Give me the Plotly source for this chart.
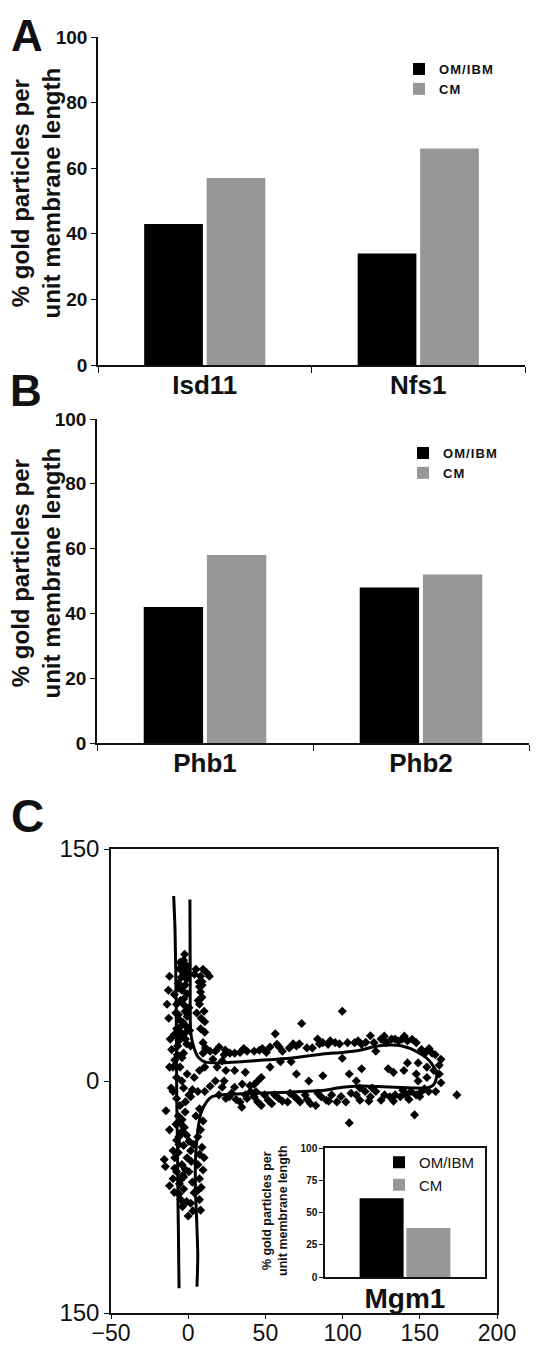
import plotly.graph_objects as go

W, H = 551, 1349
FONT = "Liberation Sans, Arial, sans-serif"
INK = "#111111"
BLACK = "#000000"
GRAY = "#979797"

# ---------------- data ----------------
series_names = ["OM/IBM", "CM"]
legend_spaced = ["O\u200aM\u200a/\u200aI\u200aB\u200aM", "C\u200aM"]

cats_a = ["Isd11", "Nfs1"]
om_a = [43, 34]
cm_a = [57, 66]

cats_b = ["Phb1", "Phb2"]
om_b = [42, 48]
cm_b = [58, 52]

cats_c = ["Mgm1"]
om_c = [61]
cm_c = [38]

y_ticks_ab = [0, 20, 40, 60, 80, 100]
y_ticks_inset = [0, 25, 50, 75, 100]
x_ticks_c = [-50, 0, 50, 100, 150, 200]
y_ticks_c = [-150, 0, 150]
y_ticktext_c = ["150", "0", "150"]

# gold particle positions (panel C scatter)
gold_x = [
    -2.3, -5.3, -3.7, -0.7, -5.7, -3.0, 0.5, 5.0, 9.6, 13.7, 8.0, 8.9, 7.3,
    -12.1, -12.8, -13.7, -12.6, -11.6, -10.7, -12.1, -11.0,
    -6.4, -4.1, -0.7, -3.0, -7.5, 0.5, -6.4, -0.7, -4.1, -7.5, 0.9, -5.3, -1.8,
    -6.8, 1.6, -3.0, -8.7, -5.3,
    8.0, 8.9, 7.3, 10.3, 8.4, 10.7, 8.0, 10.7, 9.6, 11.2, 9.6,
    -4.0, -1.0, -6.0, -2.0, -5.0, -2.0, -5.0, -1.0, -6.0, -2.0, -4.0, -9.0,
    -8.0, -9.0, 4.0, 12.0, 7.0,
    -3.0, -1.5, -4.5, -2.5, -0.5, -3.5, -5.5, -1.0, 6.5, 9.0, 5.5, -7.0,
    14.2, 17.6, 23.3, 30.1, 33.6, 38.1, 42.7, 46.1, 50.7, 56.4, 57.5, 61.0,
    65.5, 70.1, 73.5, 76.9, 80.4, 83.8, 87.2, 90.6, 95.2, 99.8, 99.8, 103.2,
    107.8, 112.3, 118.0, 120.3, 121.5, 124.9, 128.3, 131.7, 134.0, 136.3,
    138.6, 142.0, 147.7, 151.1, 153.4, 158.0, 163.7, 162.6, 162.6, 163.7,
    160.3, 155.7,
    24.0, 27.0, 36.0, 48.0, 53.0, 59.0, 68.0, 72.0, 85.0, 92.0, 98.0, 110.0,
    115.0, 127.0, 140.0, 145.0, 156.0, 160.0, 20.0, 16.0, 22.0,
    18.7, 24.4, 30.1, 37.0, 53.0, 59.8, 66.7, 70.1, 78.1, 87.2, 104.3, 112.3,
    129.5, 132.9, 139.7, 142.0, 148.9, 147.7, 148.9, 154.6, 154.6, 159.1,
    108.9, 45.0, 42.7, 47.3, 23.3, 17.6,
    10.7, 14.2, 19.9, 24.4, 26.7, 33.6, 34.7, 38.1, 40.4, 42.7, 45.0, 47.3,
    49.5, 51.8, 54.1, 58.7, 64.4, 68.9, 72.4, 75.8, 79.2, 82.6, 86.1, 89.5,
    92.9, 96.3, 102.1, 105.5, 108.9, 111.2, 114.6, 118.0, 121.5, 124.9,
    127.2, 130.6, 134.0, 137.4, 140.9, 144.3, 147.7, 151.1, 174.0, 104.3,
    146.6, 111.2, 119.2,
    28.0, 31.0, 37.0, 44.0, 56.0, 61.0, 66.0, 70.0, 77.0, 84.0, 91.0, 99.0,
    117.0, 133.0, 139.0, 143.0, 150.0, 153.0, 30.0, 35.0, 40.0, 22.0,
    -14.4, -12.1, -15.5, -14.8, -12.1, -6.4, -5.3, -4.1, -7.5, -3.0, -6.4,
    -8.7, -4.1, -7.5, -3.0, -5.7, -3.0, -4.8, -3.7, 0.0, 1.6, -0.7, 0.5, 2.7,
    5.0, 7.3, 9.6, 8.0, 6.2, 8.9, 7.3, 10.3, 6.2, 9.6, 7.3, 8.4, 7.3, 8.0,
    3.9, 1.6, -9.8, -8.7, -9.8, -5.3, -1.8, 1.6, 6.2, -9.8, -7.5,
    -2.0, -8.0, -1.0, -6.0, 2.0, -2.0, -9.0, -6.0, -1.0, 3.0,
    -4.0, -2.5, -6.0, 0.5, -3.5, -5.0, 3.5, 6.0,
    -9.8, -7.5, -4.1, -0.7, 3.9, 7.3, 10.7, -3.0, 2.7, 0.5,
]
gold_y = [
    81.9, 76.7, 76.2, 74.4, 72.6, 69.9, 68.8, 72.2, 72.2, 67.7, 67.7, 64.3, 60.9,
    67.7, 58.7, 49.6, 40.6, 27.1, 20.3, 9.0, -4.5,
    63.2, 58.7, 56.4, 53.0, 49.6, 47.4, 42.9, 41.7, 36.1, 33.8, 32.7, 29.3, 27.1,
    22.6, 22.6, 18.0, 13.5, 9.0,
    57.5, 54.1, 49.6, 45.1, 40.6, 38.3, 33.8, 31.6, 24.8, 21.4, 18.0,
    73.0, 66.0, 60.0, 62.0, 52.0, 45.0, 39.0, 35.0, 26.0, 31.0, 15.0, 56.0,
    44.0, 30.0, 69.0, 70.0, 64.0,
    78.0, 71.0, 67.0, 49.0, 44.0, 38.0, 32.0, 24.0, 52.0, 62.0, 44.0, 17.0,
    19.2, 19.2, 16.9, 18.0, 18.5, 19.2, 19.2, 19.9, 18.5, 30.5, 23.7, 19.2,
    21.4, 22.6, 37.2, 21.4, 21.4, 27.1, 24.8, 23.7, 24.8, 45.1, 14.7, 24.8,
    24.8, 23.7, 29.3, 24.8, 19.2, 27.1, 24.8, 27.1, 27.1, 25.9,
    27.1, 25.9, 24.8, 20.3, 18.0, 18.0, 14.0, 10.2, 4.5, -1.1,
    -6.8, -6.8,
    20.0, 18.0, 21.0, 21.0, 22.0, 22.0, 24.0, 24.0, 24.0, 26.0, 24.0, 26.0,
    25.0, 29.0, 29.0, 27.0, 21.0, 17.0, 22.0, 14.0, 13.0,
    9.0, 6.8, 6.8, 5.6, 9.0, 12.4, 12.4, 4.5, 0.0, 3.4, 4.5, 7.9,
    7.9, 5.6, 6.8, 11.7, 11.7, 4.5, 0.0, 9.0, 2.3, 6.8,
    0.0, 0.0, -2.3, 2.3, 0.0, 0.0,
    -6.8, -3.4, -9.0, -11.3, -10.2, -13.5, -16.9, -11.3, -6.8, -10.2, -13.5, -15.8,
    -9.0, -12.4, -14.7, -11.3, -13.5, -10.2, -13.5, -9.0, -14.7, -15.8, -10.2, -12.4,
    -9.0, -13.5, -13.5, -7.9, -9.0, -12.4, -6.8, -10.2, -6.8, -12.4,
    -9.0, -10.2, -9.0, -10.2, -9.0, -6.8, -9.0, -6.8, -9.0, -27.1,
    -21.9, -4.5, -4.5,
    -8.0, -12.0, -9.0, -7.0, -9.0, -13.0, -8.0, -11.0, -12.0, -8.0, -13.0, -10.0,
    -13.0, -13.0, -6.0, -12.0, -10.0, -5.0, -4.0, -2.0, -3.0, -4.0,
    -19.2, -31.6, -50.8, -55.3, -67.7, -22.6, -27.1, -32.7, -38.3, -41.7, -46.2,
    -49.6, -54.1, -58.7, -62.0, -66.5, -69.9, -76.7, -81.2, -87.3, -45.1, -49.6, -58.7, -65.4,
    -22.6, -18.0, -25.9, -31.6, -36.1, -42.9, -47.4, -49.6, -54.1, -57.5, -63.2, -68.8, -76.7, -83.5,
    -72.2, -79.0, -45.1, -56.4, -63.2, -15.8, -13.5, -10.2, -6.8, -6.8, -11.3,
    -20.0, -28.0, -35.0, -41.0, -52.0, -57.0, -72.0, -73.0, -78.0, -84.0,
    -25.0, -30.0, -36.0, -39.0, -61.0, -64.0, -41.0, -71.0,
    9.0, 2.3, 0.0, 4.5, 2.3, 6.8, 9.0, -4.5, -5.6, -9.0,
]

# membrane outlines (panel C)
outer_x = [-9.4, -9.0, -8.6, -8.3, -8.0, -7.8, -7.6, -7.5, -7.3, -7.0, -6.8, -6.6, -6.3, -6.1, -5.9]
outer_y = [119.6, 110, 100, 85, 67.7, 50, 30, 0, -20, -40, -60, -80, -100, -120, -134]
inner_x = [1.1, 1.3, 1.6, 3.4, 6.2, 10.7, 19.9, 42.7, 65.5, 88.4, 99.8, 111.2, 122.6,
           131.7, 138.6, 147.7, 154.6, 159.1, 161.0, 159.1, 154.6, 145.4, 122.6,
           111.2, 99.8, 88.4, 65.5, 42.7, 19.9, 15.3, 11.9, 8.4, 6.6, 5.0, 4.6,
           5.5, 6.2, 5.7]
inner_y = [117.3, 70, 31.6, 22.6, 15.8, 12.4, 11.7, 13.1, 14.7, 17.6, 18.5, 19.9, 22.6,
           23.2, 22.6, 19.2, 14.7, 9.0, 3.4, -2.3, -4.5, -4.5, -3.6,
           -3.2, -4.0, -6.0, -7.2, -7.9, -9.0, -10.2, -13.5, -20.3, -29.3, -45.1, -67.7,
           -90.2, -112.8, -133]


def fx(p):
    return p / W


def fy(p):
    return 1 - p / H


fig = go.Figure()

# ---- bar panels ----
for cats, om, cm, xa, ya, lg, names in [
    (cats_a, om_a, cm_a, "x", "y", "legend", legend_spaced),
    (cats_b, om_b, cm_b, "x2", "y2", "legend2", legend_spaced),
    (cats_c, om_c, cm_c, "x4", "y4", "legend3", series_names),
]:
    fig.add_trace(go.Bar(x=cats, y=om, name=names[0], marker_color=BLACK,
                         marker_line_width=0, xaxis=xa, yaxis=ya, legend=lg))
    fig.add_trace(go.Bar(x=cats, y=cm, name=names[1], marker_color=GRAY,
                         marker_line_width=0, xaxis=xa, yaxis=ya, legend=lg))

# ---- scatter panel ----
fig.add_trace(go.Scatter(x=gold_x, y=gold_y, mode="markers", showlegend=False,
                         marker=dict(symbol="diamond", size=7, color=BLACK),
                         xaxis="x3", yaxis="y3"))
fig.add_trace(go.Scatter(x=outer_x, y=outer_y, mode="lines", showlegend=False,
                         line=dict(color=BLACK, width=3, shape="spline", smoothing=0.6),
                         xaxis="x3", yaxis="y3"))
fig.add_trace(go.Scatter(x=inner_x, y=inner_y, mode="lines", showlegend=False,
                         line=dict(color=BLACK, width=3, shape="spline", smoothing=0.6),
                         xaxis="x3", yaxis="y3"))

bold_tick = dict(family=FONT, size=19, color=INK, weight="bold")
cat_font = dict(family=FONT, size=26, color=INK, weight="bold")


def bar_x(dom):
    return dict(domain=dom, type="category", showline=True, linecolor=INK, linewidth=1.5,
                ticks="outside", tickson="boundaries", ticklen=6, tickcolor=INK,
                tickfont=cat_font, ticklabelstandoff=-4,
                showgrid=False, zeroline=False, automargin=False)


def bar_y(dom, anchor):
    return dict(domain=dom, range=[0, 100], tickvals=y_ticks_ab, showline=True,
                linecolor=INK, linewidth=1.5, ticks="outside", ticklen=5,
                tickcolor=INK, tickfont=bold_tick, showgrid=False, zeroline=False,
                anchor=anchor, automargin=False)


fig.update_layout(
    width=W, height=H, margin=dict(l=0, r=0, t=0, b=0, autoexpand=False),
    paper_bgcolor="white", plot_bgcolor="white",
    font=dict(family=FONT, color=INK),
    barmode="group", bargap=0.415, bargroupgap=0.06,
    xaxis=dict(bar_x([fx(90), fx(517)]), anchor="y"),
    yaxis=bar_y([fy(357), fy(29)], "x"),
    xaxis2=dict(bar_x([fx(89), fx(521)]), anchor="y2"),
    yaxis2=bar_y([fy(735), fy(411)], "x2"),
    xaxis3=dict(domain=[fx(103), fx(489)], range=[-50, 200], tickvals=x_ticks_c,
                showline=True, mirror=True, linecolor=INK, linewidth=1.5,
                ticks="outside", ticklen=4, tickcolor=INK,
                tickfont=dict(family=FONT, size=23, color=INK), ticklabelstandoff=-5,
                showgrid=False, zeroline=False, anchor="y3", automargin=False),
    yaxis3=dict(domain=[fy(1305), fy(841)], range=[-150, 150], tickvals=y_ticks_c,
                ticktext=y_ticktext_c, showline=True, mirror=True, linecolor=INK,
                linewidth=1.5, ticks="outside", ticklen=5, tickcolor=INK,
                tickfont=dict(family=FONT, size=24, color=INK),
                showgrid=False, zeroline=False, anchor="x3", automargin=False),
    xaxis4=dict(domain=[fx(317), fx(477)], type="category", showline=True, mirror=True,
                linecolor=INK, linewidth=1.5, ticks="",
                tickfont=dict(family=FONT, size=28, color=INK, weight="bold"),
                ticklabelstandoff=-4,
                showgrid=False, zeroline=False, anchor="y4", automargin=False),
    yaxis4=dict(domain=[fy(1269), fy(1140)], range=[0, 100], tickvals=y_ticks_inset,
                showline=True, mirror=True, linecolor=INK, linewidth=1.5,
                ticks="outside", ticklen=4, tickcolor=INK,
                tickfont=dict(family=FONT, size=10, color=INK, weight="bold"),
                showgrid=False, zeroline=False, anchor="x4", automargin=False),
    legend=dict(x=fx(391), y=fy(46), xanchor="left", yanchor="top",
                bgcolor="rgba(0,0,0,0)",
                font=dict(family=FONT, size=13, color=INK, weight="bold")),
    legend2=dict(x=fx(395), y=fy(430), xanchor="left", yanchor="top",
                 bgcolor="rgba(0,0,0,0)",
                 font=dict(family=FONT, size=13, color=INK, weight="bold")),
    legend3=dict(x=fx(371), y=fy(1138), xanchor="left", yanchor="top",
                 bgcolor="rgba(0,0,0,0)",
                 font=dict(family=FONT, size=15, color=INK)),
)

ytitle = "% gold particles per<br>unit membrane length"
annotations = [
    dict(text="A", x=fx(19), y=fy(1), yanchor="top", font=dict(size=44, weight="bold")),
    dict(text="B", x=fx(18), y=fy(383), font=dict(size=44, weight="bold")),
    dict(text="C", x=fx(19), y=fy(808), font=dict(size=46, weight="bold")),
    dict(text=ytitle, x=fx(27.5), y=fy(185), textangle=-90,
         font=dict(size=24, weight="bold")),
    dict(text=ytitle, x=fx(27.5), y=fy(565), textangle=-90,
         font=dict(size=24, weight="bold")),
    dict(text=ytitle, x=fx(267), y=fy(1203), textangle=-90,
         font=dict(size=12.5, weight="bold")),
]
for a in annotations:
    a.setdefault("yanchor", "middle")
    a.update(xref="paper", yref="paper", xanchor="center", showarrow=False)
    a["font"].update(family=FONT, color=INK)
fig.update_layout(annotations=annotations)

fig.write_html("out.html")
